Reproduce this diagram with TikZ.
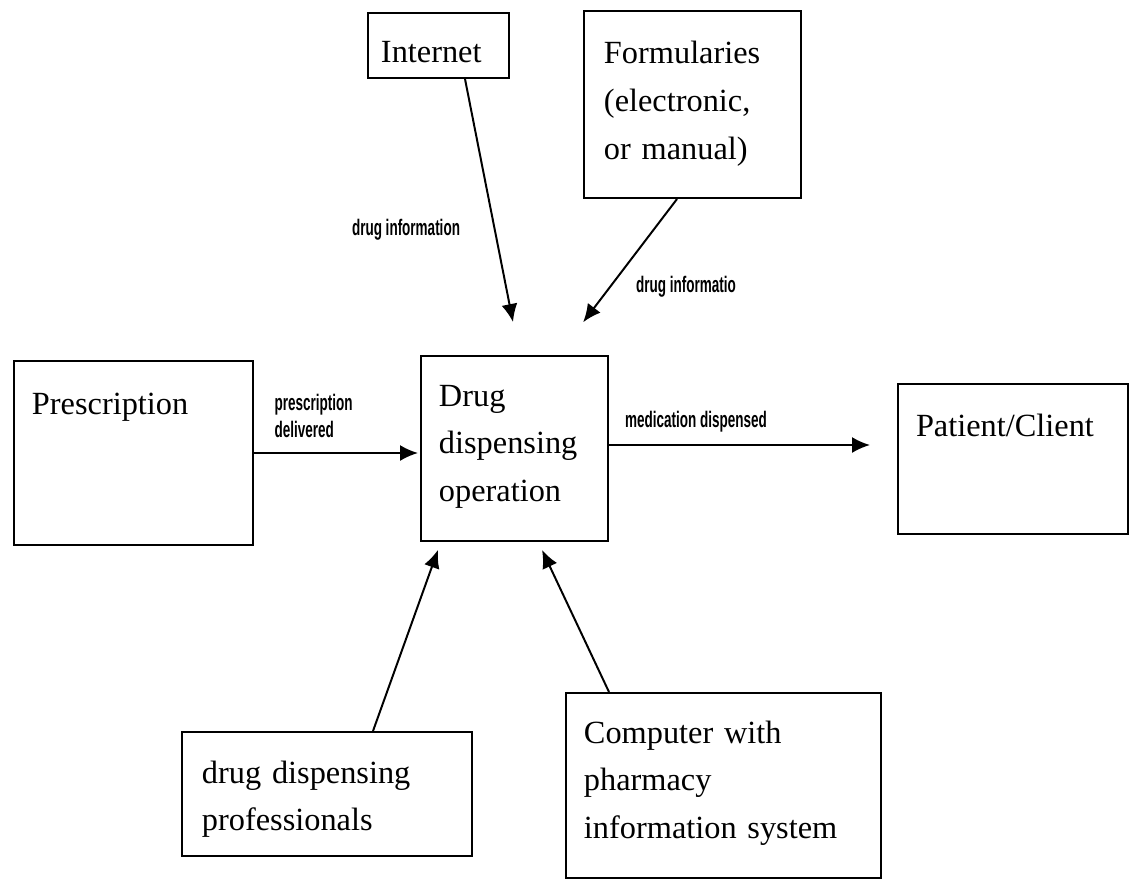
\documentclass[tikz,border=0pt]{standalone}
\usepackage{fontspec}
\setmainfont{Liberation Serif}
\newfontfamily\lblfont[FakeStretch=0.6]{Liberation Sans}
\usetikzlibrary{arrows.meta, positioning}

\begin{document}
\begin{tikzpicture}[x=0.025cm, y=-0.025cm,
    box/.style={draw, line width=1.4pt, anchor=north west, align=left,
        inner xsep=0.45cm, inner ysep=0pt, font=\fontsize{23}{34}\selectfont},
    lbl/.style={font=\lblfont\bfseries\fontsize{16}{19}\selectfont, inner sep=1pt},
    arr/.style={-{Latex[length=0.45cm,width=0.4cm]}, line width=1.4pt}]
    \useasboundingbox (0,0) rectangle (1130,881);

    % boxes
    \node[box, inner xsep=0.325cm, text width=2.875cm, text height=1.25cm, text depth=0.375cm] (inet) at (367,12) {Internet};
    \node[box, inner xsep=0.5cm, text width=4.425cm, text height=1.325cm, text depth=3.35cm] (form) at (583,10) {Formularies\\(electronic,\\or manual)};
    \node[box, text width=5.075cm, text height=1.325cm, text depth=3.275cm] (presc) at (13,360) {Prescription};
    \node[box, text width=3.775cm, text height=1.25cm, text depth=3.375cm] (drug) at (420,355) {Drug\\dispensing\\operation};
    \node[box, text width=4.85cm, text height=1.3cm, text depth=2.45cm] (pat) at (897,383) {Patient/Client};
    \node[box, inner xsep=0.5cm, text width=6.25cm, text height=1.275cm, text depth=1.825cm] (prof) at (181,731) {drug dispensing\\professionals};
    \node[box, text width=6.975cm, text height=1.25cm, text depth=3.375cm] (comp) at (565,692) {Computer with\\pharmacy\\information system};

    % labels
    \node[lbl] (infoA) at (406,230) {drug information};
    \node[lbl] (infoB) at (686,287) {drug informatio};
    \node[lbl, anchor=west, align=left] (deliv) at (273,416) {prescription\\delivered};
    \node[lbl] (med) at (696,422) {medication dispensed};

    % arrows
    \draw[arr, shorten >=0.84cm] (inet.south -| 465,0) -- (drug.north -| 519.5,0);
    \draw[arr, shorten >=1.03cm] (form.south -| 677,0) -- (drug.north -| 558.2,0);
    \draw[arr, shorten >=0.05cm] (presc.east |- 0,453) -- (drug.west |- 0,453);
    \draw[arr, shorten >=0.675cm] (drug.east |- 0,445) -- (pat.west |- 0,445);
    \draw[arr, shorten >=0.21cm] (prof.north -| 373,0) -- (drug.south -| 440.8,0);
    \draw[arr, shorten >=0.22cm] (comp.north -| 609,0) -- (drug.south -| 538.3,0);
\end{tikzpicture}
\end{document}
